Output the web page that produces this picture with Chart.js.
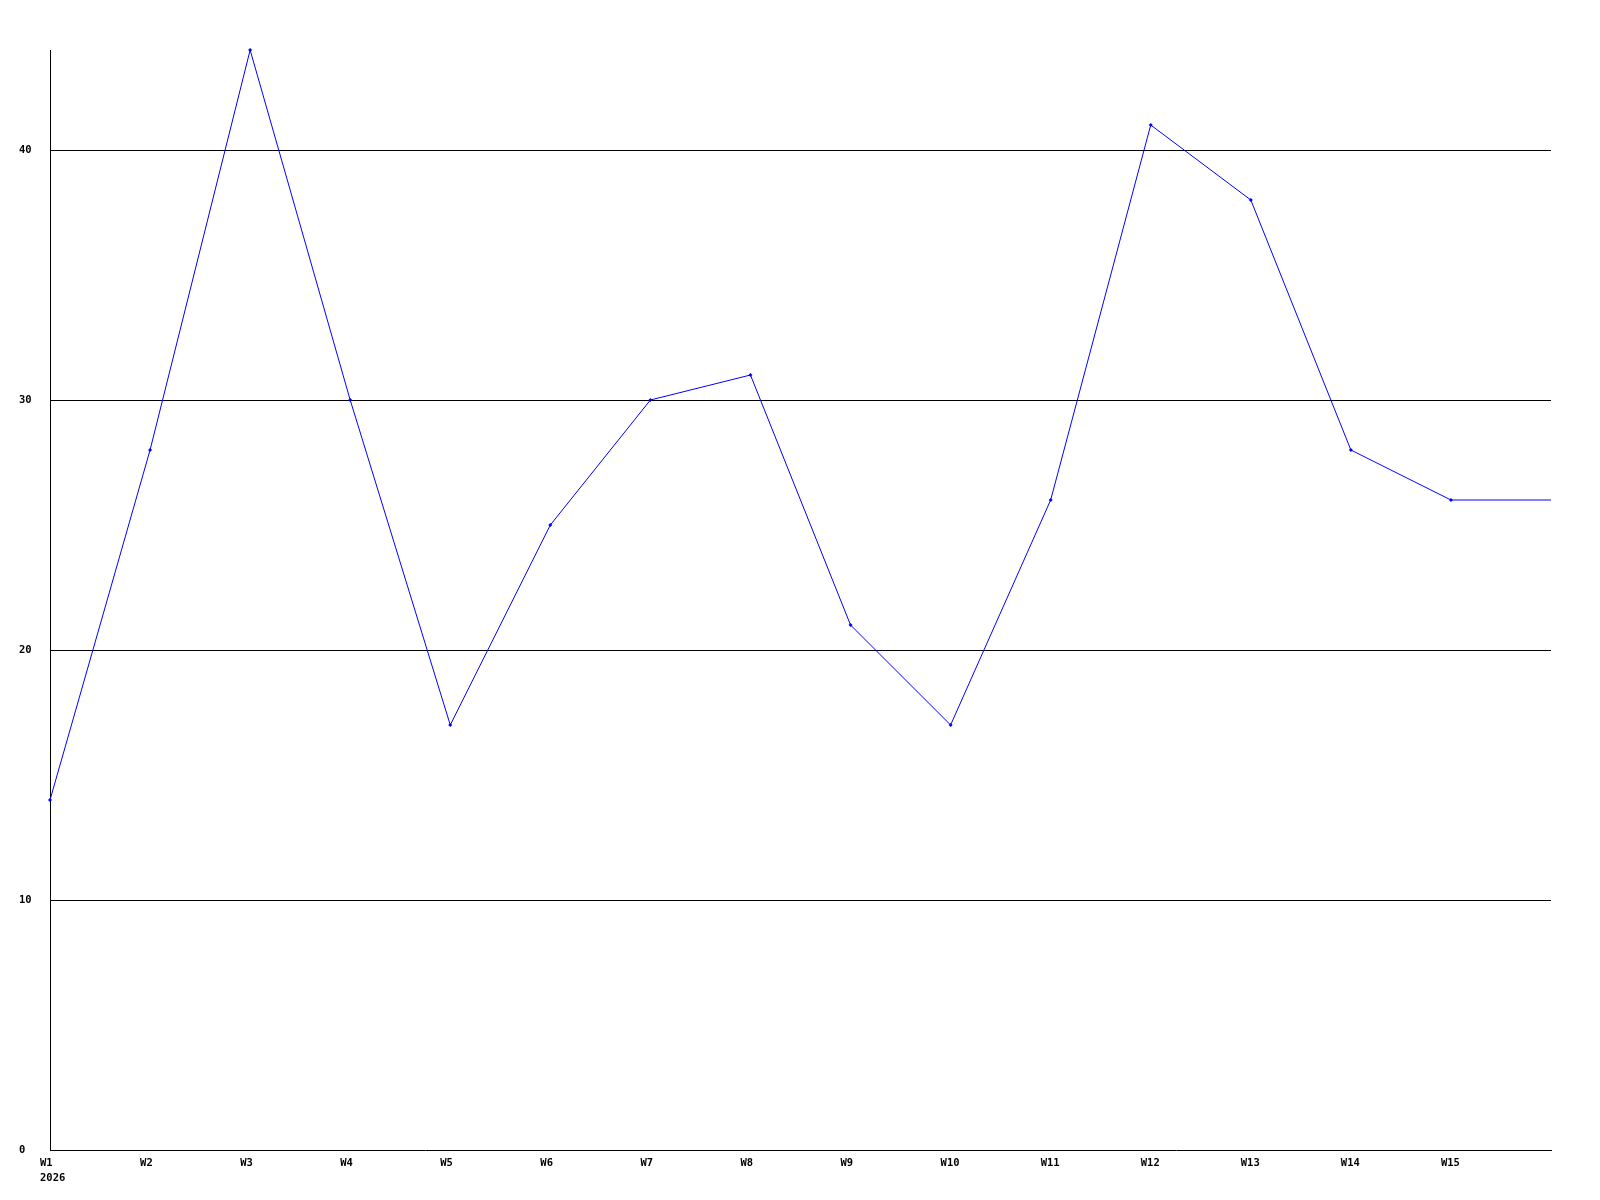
<!DOCTYPE html>
<html>
<head>
<meta charset="utf-8">
<script src="https://cdn.jsdelivr.net/npm/chart.js@4/dist/chart.umd.min.js"></script>
<style>
html,body{margin:0;padding:0;background:#fff;}
#wrap{width:1600px;height:1200px;position:relative;}
</style>
</head>
<body>
<div id="wrap"><canvas id="c" width="1600" height="1200"></canvas></div>
<script>
const categories = [["W1","2026"],"W2","W3","W4","W5","W6","W7","W8","W9","W10","W11","W12","W13","W14","W15",""];
const values = [14,28,44,30,17,25,30,31,21,17,26,41,38,28,26,26];
const yTicks = [0,10,20,30,40];
const yMax = 44;

const FONT = {family:"'DejaVu Sans Mono', monospace", size:10.5, weight:'bold', lineHeight:1.4};

new Chart(document.getElementById('c'), {
  type:'line',
  data:{
    labels:categories,
    datasets:[{
      data:values,
      borderColor:'#0000ff',
      backgroundColor:'#0000ff',
      borderWidth:1,
      tension:0,
      pointStyle:'rectRot',
      pointRadius: values.map((v,i)=> i===values.length-1 ? 0 : 2),
      pointBorderWidth:0,
      pointHoverRadius:2,
      clip:false
    }]
  },
  options:{
    responsive:false,
    animation:false,
    devicePixelRatio:1,
    layout:{padding:{left:19,right:49,top:50,bottom:0}},
    plugins:{legend:{display:false},tooltip:{enabled:false}},
    events:[],
    scales:{
      x:{
        type:'category',
        offset:false,
        grid:{display:false,drawTicks:false},
        border:{display:true,color:'#000',width:1},
        ticks:{
          color:'#000',font:FONT,maxRotation:0,autoSkip:false,
          align:'start',labelOffset:-10,padding:6
        },
        afterFit:(s)=>{s.height=50;}
      },
      y:{
        min:0,max:yMax,
        afterBuildTicks:(s)=>{s.ticks=yTicks.map(v=>({value:v}));},
        grid:{color:'#000',lineWidth:(ctx)=> ctx.tick && ctx.tick.value===0 ? 0 : 1,drawTicks:false},
        border:{display:true,color:'#000',width:1},
        ticks:{color:'#000',font:FONT,crossAlign:'far',padding:0},
        afterFit:(s)=>{s.width=31;}
      }
    }
  }
});
</script>
</body>
</html>
